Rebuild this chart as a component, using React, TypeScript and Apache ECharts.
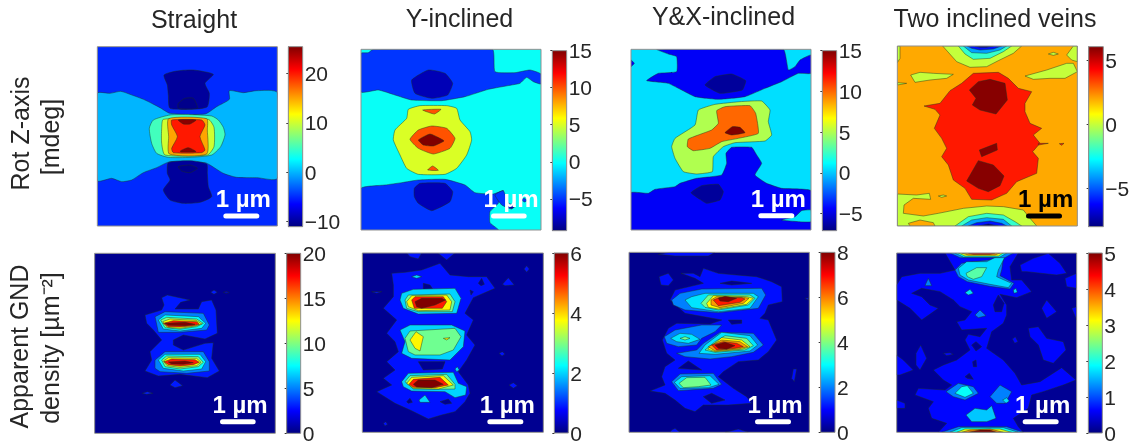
import React, { useEffect, useRef } from "react";
import * as echarts from "echarts";

// Each contour: [level value, x, y, x, y, ...], painted from first to last, in map units.
type Contour = number[];

const titles = ["Straight", "Y-inclined", "Y&X-inclined", "Two inclined veins"];
const scaleText = "1 µm";

const rotStraightRange = [-11, 25.4];
const rotStraightTicks = [-10, 0, 10, 20];
const rotStraight: Contour[] = [
  [0, 22,160,60,160,92,154,120,163,165,180,210,203,240,220,345,222,380,200,418,178,418,152,460,158,500,152,562,158,562,415,500,413,440,412,400,400,360,375,345,368,240,365,200,383,160,398,125,420,95,425,65,415,22,422],
  [-10, 222,105,260,93,310,90,370,103,345,130,358,160,352,200,320,207,240,205,235,165,232,135],
  [-10.6, 265,190,285,175,310,175,322,205,265,205],
  [-10, 235,368,300,362,350,372,352,400,355,440,365,470,330,487,280,490,240,480,220,450,240,420,232,400],
  [-10.6, 265,380,300,375,322,385,300,398,275,393],
  [5, 240,225,300,224,365,228,385,240,400,262,405,285,392,320,365,345,300,352,235,352,200,340,185,310,178,265,190,240],
  [10, 220,238,355,238,372,262,372,320,352,345,225,345,215,310,215,265],
  [15, 236,236,350,236,352,270,350,342,238,342,236,290],
  [20, 245,240,335,240,345,255,330,290,345,330,335,338,250,338,245,325,262,290,245,255],
  [25, 265,240,318,240,300,252,280,252],
  [25, 272,332,295,323,318,335,272,336],
];

const rotYRange = [-9.3, 15];
const rotYTicks = [-5, 0, 5, 10, 15];
const rotY: Contour[] = [
  [-5, 18,40,40,38,55,28,412,28,420,95,480,98,525,90,558,102,558,132,535,125,515,112,495,130,470,135,400,148,330,170,260,182,170,180,120,165,70,150,18,156],
  [-8, 170,120,220,90,270,100,293,130,278,165,230,175,180,160],
  [-5, 18,445,90,435,140,428,190,420,270,418,330,435,360,458,415,462,445,452,430,490,405,515,405,548,430,570,18,570],
  [-5, 420,465,445,452,460,490,480,495,470,507,440,495],
  [-5, 500,480,508,474,516,482,508,486],
  [-8, 178,445,195,430,270,430,293,455,285,485,230,512,190,490,178,470],
  [-8, 462,500,470,494,478,502,470,505],
  [5, 160,208,195,197,275,197,305,205,315,240,345,275,350,300,335,345,305,385,270,403,190,403,155,385,135,345,115,300,120,270,155,235],
  [10, 203,210,258,208,238,222],
  [10, 218,390,233,378,250,391],
  [10, 165,298,190,270,230,258,275,265,300,295,285,325,235,342,190,325],
  [15, 190,300,225,282,255,295,267,303,235,318,205,315],
];

const rotYXRange = [-7.1, 15];
const rotYXTicks = [-5, 0, 5, 10, 15];
const rotYX: Contour[] = [
  [-4.5, 95,28,475,28,490,90,510,80,525,60,558,45,558,100,520,100,470,125,420,145,360,170,280,178,210,170,130,130,65,122,100,100,155,95,155,50,130,42],
  [-4.5, 18,60,28,70,18,80],
  [-6.5, 240,135,270,110,320,102,362,122,352,150,285,160],
  [5, 220,210,270,193,345,185,410,183,435,210,430,245,440,285,420,303,330,308,295,320,265,350,262,395,215,402,175,395,150,355,140,320,150,295,210,255],
  [10, 275,212,300,200,375,197,392,220,400,280,340,295,290,305,255,325,205,332,187,320,190,297,260,270,280,250],
  [15, 300,278,322,260,345,262,360,278,320,285],
  [-4.5, 18,458,70,460,90,448,150,440,165,430,215,415,290,405,305,370,303,340,320,322,380,322,395,345,410,370,390,405,425,430,470,445,558,452,558,570,18,570],
  [0.5, 470,540,510,530,530,512,558,510,558,545,520,545],
  [-6.5, 198,458,230,437,280,433,295,455,285,480,245,490,225,478],
];

const rotTwoRange = [-8, 6.1];
const rotTwoTicks = [-5, 0, 5];
const rotTwo: Contour[] = [
  [0, 158,18,395,18,370,40,325,62,290,80,240,82,200,65],
  [-2, 205,18,365,18,340,35,300,55,250,58,225,42],
  [-4, 220,18,350,18,330,30,290,40,245,38],
  [-6, 232,18,335,18,310,27,270,30,245,25],
  [-8, 255,18,310,18,290,22,270,22],
  [0, 530,45,550,18,562,18,562,65,545,60],
  [0, 475,42,490,37,505,42,490,46],
  [0, 22,18,30,18,30,55,22,68],
  [0, 62,105,90,97,130,100,190,103,170,115,120,120,75,127],
  [0, 405,108,470,90,530,70,550,70,562,95,525,115,480,115,430,118],
  [0, 22,128,50,130,22,135],
  [0, 22,462,80,465,118,460,122,478,70,475,42,495,40,520,100,528,145,520,220,505,290,498,340,500,400,510,420,535,440,558,22,558],
  [2, 55,550,90,540,130,548,135,558,60,558],
  [0, 145,468,160,465,170,468,155,472],
  [-2, 195,558,235,530,290,520,340,525,375,545,395,558],
  [-4, 215,558,245,540,290,533,340,538,365,558],
  [-6, 235,558,260,548,300,543,335,550,350,558],
  [-8, 265,558,295,552,325,558],
  [4, 102,198,150,190,180,152,215,130,250,100,325,97,355,115,385,145,425,155,405,190,405,215,420,250,455,265,430,285,450,310,428,335,445,355,440,400,380,425,350,460,305,480,245,478,225,445,190,420,175,375,155,350,170,325,155,295,133,265,150,225,135,208],
  [4, 445,310,475,310,445,315],
  [4, 508,311,522,310,515,316],
  [6, 238,150,265,125,300,118,345,130,352,180,318,222,270,210,247,195,258,175],
  [6, 268,330,320,310,322,330,275,350],
  [6, 230,423,265,362,310,375,342,408,330,437,295,455,265,445],
];

const gndStraightRange = [0, 20];
const gndStraightTicks = [0, 5, 10, 15, 20];
const gndStraight: Contour[] = [
  [3, 165,210,215,195,222,180,215,158,232,150,300,165,272,172,255,192,325,192,335,170,365,165,378,195,382,265,345,282,280,270,250,285,250,300,280,315,345,295,370,293,365,340,388,378,352,398,270,388,205,393,165,378,185,345,180,320,215,285,190,255,170,235],
  [3, 240,420,255,405,278,422,255,428],
  [3, 157,445,172,440,188,445,170,448],
  [3, 362,142,372,135,382,142,372,148],
  [1.5, 400,142,410,139,418,143,408,145],
  [5, 195,215,225,200,340,205,358,240,350,255,270,262,205,262],
  [5, 195,345,225,320,340,320,358,350,358,378,290,385,210,380,195,370],
  [7.5, 205,225,225,210,325,215,347,235,335,250,270,258,220,252],
  [7.5, 205,345,225,328,330,328,347,350,335,372,280,378,220,370],
  [10, 212,225,230,217,320,222,340,235,320,245,270,253,225,248],
  [10, 215,345,230,333,325,335,340,352,325,365,270,372,225,365],
  [12.5, 218,230,240,222,318,226,335,237,315,243,270,250,232,247],
  [12.5, 220,348,235,338,320,340,333,352,320,362,270,367,232,362],
  [17, 220,235,250,227,320,230,328,238,310,242,270,246,235,245],
  [17, 222,350,245,342,315,344,328,352,310,359,270,363,235,359],
  [20, 225,235,285,232,315,238,285,242,235,241],
  [20, 235,351,285,348,310,353,280,358,245,357],
];

const gndYRange = [0, 6];
const gndYTicks = [0, 2, 4, 6];
const gndY: Contour[] = [
  [0.85, 155,24,200,24,190,42,165,35],
  [0.85, 248,24,300,24,275,45],
  [0.85, 110,85,150,82,200,75,255,55,285,90,340,95,395,95,420,130,355,158,330,205,355,225,335,270,360,300,335,345,310,380,340,420,345,445,330,470,300,500,260,510,220,522,165,495,120,475,65,440,110,420,85,400,120,375,95,350,130,320,120,290,95,265,125,225,85,190,115,155,115,120],
  [0.1, 205,115,225,120,245,150,205,145],
  [0.1, 370,115,380,100,388,118,378,122],
  [0.1, 190,350,270,350,262,372,205,375],
  [0.1, 345,135,355,140,348,150],
  [0.1, 155,470,165,460,172,472,160,475],
  [0.1, 255,470,280,462,290,475,270,478],
  [0.85, 50,140,80,140,65,145],
  [0.85, 507,72,515,62,523,72,515,82],
  [0.85, 442,118,460,98,478,120,450,122],
  [0.85, 432,325,442,320,450,327,441,333],
  [0.85, 462,420,475,413,487,422,475,430],
  [0.85, 85,535,92,530,98,538,90,543],
  [2, 140,145,175,133,300,130,318,160,305,205,190,207,145,190,135,165],
  [2, 135,255,165,240,290,240,330,258,325,305,285,345,170,340,140,325,150,290],
  [2, 140,410,160,385,295,382,310,415,335,425,332,450,300,458,270,440,170,438,145,425],
  [2, 170,95,185,90,200,95,185,100],
  [2, 192,465,210,450,225,472,195,472],
  [2, 300,372,307,365,313,375,305,380],
  [2.9, 150,165,160,150,285,147,300,170,292,200,190,200,155,190],
  [2.9, 150,280,165,258,300,250,318,275,295,315,255,330,180,330,160,320],
  [2.9, 150,410,165,392,275,388,300,418,300,432,240,433,175,432],
  [3.8, 155,170,170,152,275,150,290,170,285,195,190,197,160,185],
  [3.8, 165,285,183,260,205,275,195,318,180,310],
  [3.8, 265,280,285,278,275,285],
  [3.8, 155,415,170,397,265,392,295,420,250,432,175,430],
  [5.1, 170,165,180,155,265,155,275,170,262,190,178,190],
  [5.1, 162,418,175,403,255,397,280,420,240,428,175,427],
  [6, 180,170,200,160,260,160,272,165,240,180,200,190,185,185],
  [6, 175,418,190,405,240,405,265,418,230,428,185,426],
];

const gndYXRange = [0, 8];
const gndYXTicks = [0, 2, 4, 6, 8];
const gndYX: Contour[] = [
  [1.1, 100,28,135,22,270,22,250,33,150,33],
  [1.1, 102,95,130,85,145,105,130,122,108,120],
  [1.1, 168,85,205,85,225,95,235,70,280,85,335,90,395,95,440,110,470,125,472,170,430,180,420,205,405,220,430,225,455,285,430,320,400,345,340,350,295,380,280,395,325,430,365,455,380,475,310,480,235,480,210,500,180,490,150,465,120,445,75,438,120,420,110,395,120,365,150,345,125,325,112,285,130,250,155,235,255,237,290,225,180,205,135,165,150,135,235,115,210,100],
  [0.1, 285,115,320,108,380,115,320,120],
  [0.1, 310,225,350,225,350,235,320,238],
  [0.1, 160,370,190,348,230,375],
  [0.1, 235,455,260,445,300,465,260,475],
  [1.1, 505,372,515,372,508,410,500,400],
  [1.1, 540,160,550,158,550,165],
  [1.1, 140,555,150,550,165,562,135,562],
  [1.1, 310,560,340,552,370,562,300,562],
  [2, 140,165,165,145,230,132,410,130,422,150,400,190,280,203,180,195,145,180],
  [2, 118,275,150,255,230,240,290,240,270,260,230,280,215,300,160,305,125,295],
  [2, 155,325,215,315,235,295,285,262,385,265,415,300,385,322,320,335,255,342,180,335],
  [2, 140,410,165,387,265,385,290,418,265,430,160,437],
  [2.8, 180,165,200,155,240,145,385,145,400,155,375,190,280,200,200,188],
  [2.8, 137,280,165,265,200,268,225,283,190,295,155,290],
  [2.8, 222,325,240,300,290,262,375,272,398,300,375,318,270,328],
  [2.8, 148,412,170,395,255,392,282,418,250,428,165,430],
  [3.9, 228,175,250,150,375,150,390,160,370,180,280,195,240,187],
  [3.9, 165,280,180,275,195,280,180,285],
  [3.9, 240,315,270,290,300,272,365,280,385,302,360,315,270,322],
  [3.9, 162,415,185,398,240,397,258,420,220,425,175,428],
  [5, 245,175,265,152,365,155,385,160,365,178,280,192,250,187],
  [5, 248,312,290,278,350,285,375,305,350,313,270,320],
  [5.8, 258,165,275,155,355,157,372,160,355,175,285,188,258,180],
  [5.8, 250,305,290,285,345,290,368,305,340,312,270,318],
  [6.8, 265,165,285,157,350,158,360,162,345,172,280,182],
  [6.8, 260,300,295,290,335,295,355,305,330,310,275,315],
  [8, 280,160,300,154,335,160,310,170,285,168],
  [8, 270,300,300,292,330,302,305,313,280,310],
];

const gndTwoRange = [0, 5];
const gndTwoTicks = [0, 1, 2, 3, 4, 5];
const gndTwo: Contour[] = [
  [0.65, 35,95,90,85,150,85,195,75,165,24,385,24,360,65,365,105,395,105,425,140,380,158,330,148,350,180,350,210,340,235,305,260,290,310,340,345,375,385,395,420,450,410,515,368,558,405,520,420,460,440,425,450,415,490,370,520,385,545,400,562,145,562,170,535,125,520,115,490,130,470,75,450,85,430,165,435,185,420,160,405,130,375,160,360,200,345,240,315,225,285,235,268,270,275,290,250,215,255,200,230,225,225,245,200,210,185,190,165,150,140,95,130,65,145,95,155,120,180,145,190,95,225,60,190,20,165,20,120],
  [0.1, 310,180,325,150,342,175,335,200,315,200],
  [0.1, 245,300,258,290,275,305,258,318],
  [0.1, 248,350,258,345,260,365,250,365],
  [0.1, 225,395,238,385,250,403,232,400],
  [0.65, 415,250,445,245,470,280,520,290,528,315,490,355,460,345,445,300,420,275],
  [0.65, 78,325,92,300,110,340,90,375,78,360],
  [0.65, 20,330,40,345,70,375,30,390,20,390],
  [0.65, 20,465,45,475,45,490,20,490],
  [0.65, 390,60,430,40,475,25,510,55,530,85,500,90,410,80,395,80],
  [0.65, 525,100,560,85,560,130,530,125],
  [0.65, 455,190,470,165,500,200,470,220],
  [0.65, 545,190,560,185,560,225],
  [0.65, 367,282,376,275,384,290,374,295],
  [0.65, 160,325,180,323,190,328,170,332],
  [1.25, 195,75,215,55,340,40,335,75,330,92,372,115,360,132,300,124,232,110,205,95],
  [1.7, 205,70,230,50,290,50,320,35,345,35,325,75,320,95,365,115,355,128,300,118,235,105,210,90],
  [2.3, 228,85,260,68,290,68,275,95,250,103,232,95],
  [1.25, 180,24,370,24,345,38,210,38],
  [1.9, 195,24,350,24,330,36,220,36],
  [3, 205,24,340,24,325,33,225,33],
  [3.7, 215,24,330,24,315,30,235,30],
  [4.4, 235,24,315,24,300,28,250,28],
  [1.7, 225,143,240,133,250,145,235,150],
  [1.25, 255,210,270,195,288,212,265,218],
  [1.25, 108,115,115,100,125,122,105,122],
  [1.7, 370,135,378,130,382,142,372,145],
  [1.25, 168,440,205,415,250,425,265,445,225,465,190,455],
  [1.25, 300,455,330,420,365,440,345,475,320,475],
  [1.9, 195,445,215,425,232,422,250,445,225,457],
  [1.7, 338,465,350,458,358,468,348,475],
  [1.6, 228,510,255,490,290,495,305,482,318,520,290,530,245,530],
  [1.25, 155,562,205,545,350,545,400,562],
  [1.9, 180,562,215,548,340,548,385,562],
  [3, 200,562,225,552,330,552,365,562],
  [3.7, 215,562,240,555,300,552,340,562],
  [5, 235,562,270,555,300,555,320,562],
];

// Where each reference panel sits: crop origin in page px, map bounds, colorbar bounds and scale-bar anchor,
// measured in third-of-a-pixel map units.
const frames = [
  { o: [90, 40], x: [22, 562], y: [20, 558], cx: [595, 638], cy: [20, 560], bar: [400, 508, 528], txt: [460, 472], ink: "#fff", base: -5, smooth: 0.2, c: rotStraight, r: rotStraightRange, t: rotStraightTicks },
  { o: [355, 40], x: [18, 558], y: [28, 570], cx: [592, 635], cy: [32, 572], bar: [408, 515, 528], txt: [468, 470], ink: "#fff", base: 0, smooth: 0.15, c: rotY, r: rotYRange, t: rotYTicks },
  { o: [625, 40], x: [18, 558], y: [28, 570], cx: [592, 635], cy: [32, 572], bar: [400, 508, 527], txt: [460, 472], ink: "#fff", base: 0.5, smooth: 0.12, c: rotYX, r: rotYXRange, t: rotYXTicks },
  { o: [890, 40], x: [22, 562], y: [18, 558], cx: [596, 640], cy: [20, 560], bar: [408, 516, 528], txt: [467, 472], ink: "#000", base: 2, smooth: 0, c: rotTwo, r: rotTwoRange, t: rotTwoTicks },
  { o: [90, 245], x: [14, 556], y: [25, 565], cx: [590, 632], cy: [25, 565], bar: [390, 497, 530], txt: [450, 473], ink: "#fff", base: 0.3, smooth: 0, c: gndStraight, r: gndStraightRange, t: gndStraightTicks },
  { o: [355, 245], x: [22, 565], y: [24, 562], cx: [598, 640], cy: [24, 564], bar: [397, 505, 530], txt: [457, 473], ink: "#fff", base: 0.1, smooth: 0, c: gndY, r: gndYRange, t: gndYTicks },
  { o: [625, 245], x: [12, 553], y: [22, 562], cx: [587, 630], cy: [22, 562], bar: [390, 498, 530], txt: [450, 473], ink: "#fff", base: 0.1, smooth: 0, c: gndYX, r: gndYXRange, t: gndYXTicks },
  { o: [890, 245], x: [20, 560], y: [24, 562], cx: [595, 637], cy: [24, 564], bar: [398, 506, 530], txt: [458, 473], ink: "#fff", base: 0.1, smooth: 0, c: gndTwo, r: gndTwoRange, t: gndTwoTicks },
];

const FONT = "'Liberation Sans', Arial, sans-serif";
const clamp = (v: number) => Math.max(0, Math.min(1, v));
const jet = (t: number) => {
  const r = clamp(Math.min(4 * t - 1.5, -4 * t + 4.5));
  const g = clamp(Math.min(4 * t - 0.5, -4 * t + 3.5));
  const b = clamp(Math.min(4 * t + 0.5, -4 * t + 2.5));
  return `rgb(${Math.round(r * 255)},${Math.round(g * 255)},${Math.round(b * 255)})`;
};
const jetStops = [0, 0.125, 0.375, 0.625, 0.875, 1].map((s) => ({ offset: s, color: jet(s) }));

function buildOption() {
  const grid: any[] = [];
  const xAxis: any[] = [];
  const yAxis: any[] = [];
  const series: any[] = [];
  frames.forEach((f) => {
    const [lo, hi] = f.r;
    const idx = grid.length;
    grid.push({
      left: f.o[0] + f.x[0] / 3, top: f.o[1] + f.y[0] / 3,
      width: (f.x[1] - f.x[0]) / 3, height: (f.y[1] - f.y[0]) / 3,
    });
    xAxis.push({ gridIndex: idx, type: "value", min: f.x[0], max: f.x[1], show: false });
    yAxis.push({ gridIndex: idx, type: "value", min: f.y[0], max: f.y[1], inverse: true, show: false });
    const layers: Contour[] = [
      [f.base, f.x[0], f.y[0], f.x[1], f.y[0], f.x[1], f.y[1], f.x[0], f.y[1]],
      ...f.c,
    ];
    series.push({
      type: "custom", xAxisIndex: idx, yAxisIndex: idx, silent: true, clip: true,
      data: layers.map((_, i) => [i]),
      renderItem: (p: any, api: any) => {
        const c = layers[p.dataIndex];
        const pts: number[][] = [];
        for (let i = 1; i < c.length; i += 2) pts.push(api.coord([c[i], c[i + 1]]));
        const first = p.dataIndex === 0;
        return {
          type: "polygon", shape: { points: pts, smooth: first ? 0 : f.smooth },
          style: { fill: jet((c[0] - lo) / (hi - lo)), stroke: first ? "transparent" : "rgba(30,50,30,0.75)", lineWidth: 0.6 },
        };
      },
    });
    series.push({
      type: "custom", xAxisIndex: idx, yAxisIndex: idx, silent: true, clip: false,
      data: [[f.bar[0], f.bar[2], f.bar[1]]],
      renderItem: (_p: any, api: any) => {
        const a = api.coord([f.x[0], f.y[0]]);
        const b = api.coord([f.x[1], f.y[1]]);
        const s = api.coord([api.value(0), api.value(1)]);
        const e = api.coord([api.value(2), api.value(1)]);
        const t = api.coord(f.txt);
        return {
          type: "group",
          children: [
            { type: "rect", shape: { x: a[0], y: a[1], width: b[0] - a[0], height: b[1] - a[1] }, style: { fill: "none", stroke: "#8f8f8f", lineWidth: 1 } },
            { type: "rect", shape: { x: s[0], y: s[1] - 2.5, width: e[0] - s[0], height: 5, r: 2.5 }, style: { fill: f.ink } },
            { type: "text", x: t[0], y: t[1] + 1.5, style: { text: scaleText, fill: f.ink, font: `bold 24px ${FONT}`, align: "center", verticalAlign: "middle" } },
          ],
        };
      },
    });
    const ci = grid.length;
    grid.push({
      left: f.o[0] + f.cx[0] / 3, top: f.o[1] + f.cy[0] / 3,
      width: (f.cx[1] - f.cx[0]) / 3, height: (f.cy[1] - f.cy[0]) / 3,
    });
    xAxis.push({ gridIndex: ci, type: "value", min: 0, max: 1, show: false });
    yAxis.push({
      gridIndex: ci, type: "value", position: "right", min: lo, max: hi,
      splitLine: { show: false },
      axisLine: { show: true, lineStyle: { color: "#8f8f8f", width: 1 } },
      axisTick: { show: true, inside: true, length: 2, customValues: f.t, lineStyle: { color: "#333", width: 1 } },
      axisLabel: {
        margin: 2, fontSize: 21, color: "#262626", fontFamily: FONT, customValues: f.t,
        formatter: (v: number) => String(v).replace("-", "\u2212"),
      },
    });
    series.push({
      type: "custom", xAxisIndex: ci, yAxisIndex: ci, silent: true, clip: false,
      data: [[0, lo, 1, hi]],
      renderItem: (_p: any, api: any) => {
        const a = api.coord([api.value(0), api.value(3)]);
        const b = api.coord([api.value(2), api.value(1)]);
        return {
          type: "rect", shape: { x: a[0], y: a[1], width: b[0] - a[0], height: b[1] - a[1] },
          style: { fill: new echarts.graphic.LinearGradient(0, 1, 0, 0, jetStops), stroke: "#8f8f8f", lineWidth: 1 },
        };
      },
    });
  });

  const label = (text: string, x: number, y: number, rotate = 0) => ({
    type: "text", x, y, rotation: rotate,
    style: { text, font: `25px ${FONT}`, fill: "#262626", align: "center", verticalAlign: "middle" },
  });
  const up = Math.PI / 2;
  const graphic = [
    label(titles[0], 194, 19),
    label(titles[1], 459.5, 18),
    label(titles[2], 723.5, 16),
    label(titles[3], 995, 18),
    label("Rot Z-axis", 20, 133.5, up),
    label("[mdeg]", 50, 137, up),
    label("Apparent GND", 19, 346.5, up),
    label("density [µm⁻²]", 50, 348, up),
  ];
  return { animation: false, backgroundColor: "#fff", grid, xAxis, yAxis, series, graphic };
}

export default function App() {
  const ref = useRef<HTMLDivElement>(null);
  useEffect(() => {
    const chart = echarts.init(ref.current!, undefined, { renderer: "svg" });
    chart.setOption(buildOption() as any);
    return () => chart.dispose();
  }, []);
  return <div ref={ref} style={{ position: "absolute", left: 0, top: 0, width: 1137, height: 444, filter: "blur(0.4px)" }} />;
}
